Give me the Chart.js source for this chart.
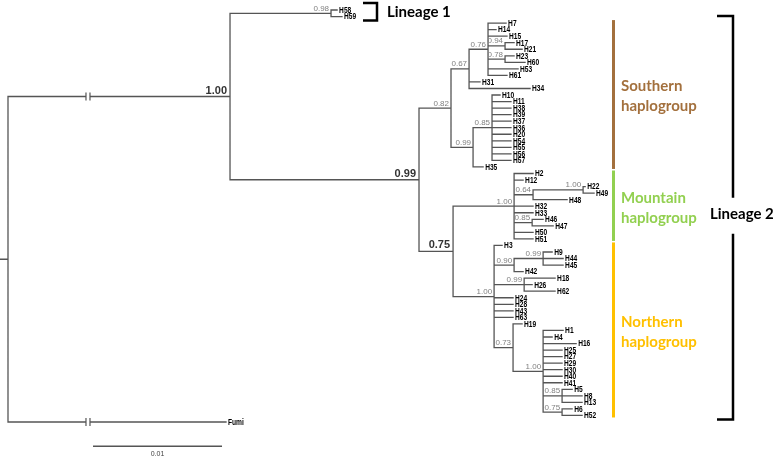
<!DOCTYPE html>
<html>
<head>
<meta charset="utf-8">
<script src="https://cdn.jsdelivr.net/npm/chart.js@4.4.0/dist/chart.umd.min.js"></script>
<style>
  html, body { margin: 0; padding: 0; background: #fff; }
  #wrap { width: 773px; height: 457px; }
</style>
</head>
<body>
<div id="wrap"><canvas id="tree" width="773" height="457"></canvas></div>
<script>
// Tree in preorder (children listed top to bottom).
// Branch lengths in 1e-3 substitutions/site (scale bar 0.01 = 10).
const nodeNames = [
  'root', 'A', 'L1', 'H58', 'H59',
  'L2', 'S', 'n67', 'n76', 'H7', 'H14', 'H15',
  'n94', 'H17', 'H21', 'n78', 'H23', 'H60', 'H53', 'H61', 'H31', 'H34',
  'n99b', 'n85s', 'H10', 'H11', 'H38', 'H39', 'H37', 'H36',
  'H20', 'H54', 'H55', 'H56', 'H57', 'H35',
  'n75', 'M', 'H2', 'H12', 'n64', 'n100c', 'H22', 'H49', 'H48',
  'H32', 'H33', 'n85m', 'H46', 'H47', 'H50', 'H51',
  'N', 'H3', 'n90', 'n99d', 'H9', 'H44', 'H45', 'H42',
  'n99e', 'H18', 'H26', 'H62', 'H24', 'H28', 'H43', 'H63',
  'n73', 'H19', 'n100f', 'H1', 'H4', 'H16', 'H25', 'H27', 'H29',
  'H30', 'H40', 'H41', 'n85g', 'H5', 'H8', 'H13',
  'n75h', 'H6', 'H52', 'Fumi'
];
const nodeParents = [
  null, 'root', 'A', 'L1', 'L1',
  'A', 'L2', 'S', 'n67', 'n76', 'n76', 'n76',
  'n76', 'n94', 'n94', 'n76', 'n78', 'n78', 'n76', 'n76', 'n67', 'n67',
  'S', 'n99b', 'n85s', 'n85s', 'n85s', 'n85s', 'n85s', 'n85s',
  'n85s', 'n85s', 'n85s', 'n85s', 'n85s', 'n99b',
  'L2', 'n75', 'M', 'M', 'M', 'n64', 'n100c', 'n100c', 'n64',
  'M', 'M', 'M', 'n85m', 'n85m', 'M', 'M',
  'n75', 'N', 'N', 'n90', 'n99d', 'n99d', 'n99d', 'n90',
  'N', 'n99e', 'n99e', 'n99e', 'N', 'N', 'N', 'N',
  'N', 'n73', 'n73', 'n100f', 'n100f', 'n100f', 'n100f', 'n100f', 'n100f',
  'n100f', 'n100f', 'n100f', 'n100f', 'n85g', 'n85g', 'n85g',
  'n100f', 'n75h', 'n75h', 'root'
];
const branchLengths = [
  0, 17.21, 7.83, 0.47, 0.85,
  14.65, 2.48, 1.40, 1.47, 1.40, 0.62, 1.47,
  1.32, 0.70, 1.32, 1.32, 0.70, 1.55, 2.33, 1.47, 0.85, 4.73,
  1.71, 1.47, 0.62, 1.47, 1.47, 1.47, 1.47, 1.47,
  1.47, 1.47, 1.47, 1.47, 1.47, 0.78,
  2.64, 4.73, 1.47, 0.70, 1.47, 3.88, 0.16, 0.85, 2.64,
  1.47, 1.47, 1.40, 0.85, 1.63, 1.47, 1.47,
  3.18, 0.62, 1.55, 2.25, 0.70, 1.55, 1.55, 0.70,
  2.33, 2.40, 0.62, 2.40, 1.47, 1.47, 1.47, 1.47,
  1.47, 0.70, 2.33, 1.55, 0.70, 2.56, 1.47, 1.47, 1.47,
  1.47, 1.47, 1.47, 1.47, 0.78, 1.55, 1.55,
  1.47, 0.78, 1.55, 16.90
];
const supportValues = [
  null, 1.00, 0.98, null, null,
  0.99, 0.82, 0.67, 0.76, null, null, null,
  0.94, null, null, 0.78, null, null, null, null, null, null,
  0.99, 0.85, null, null, null, null, null, null,
  null, null, null, null, null, null,
  0.75, 1.00, null, null, 0.64, 1.00, null, null, null,
  null, null, 0.85, null, null, null, null,
  1.00, null, 0.90, 0.99, null, null, null, null,
  0.99, null, null, null, null, null, null, null,
  0.73, null, 1.00, null, null, null, null, null, null,
  null, null, null, 0.85, null, null, null,
  0.75, null, null, null
];
const brokenBranches = ['A', 'Fumi'];
const keySupportNodes = ['A', 'L2', 'n75'];
const scaleBarLength = 10;
const scaleBarLabel = '0.01';
const groupNames = ['Southern', 'Mountain', 'Northern'];
const groupFirstTip = ['H7', 'H2', 'H3'];
const groupLastTip = ['H35', 'H51', 'H52'];
const lineageNames = ['Lineage 1', 'Lineage 2'];
const lineageFirstTip = ['H58', 'H7'];
const lineageLastTip = ['H59', 'H52'];

const groupColors = ['#a3703d', '#92d050', '#ffc000'];
const BRANCH = '#555555';

// ---- layout from the tree ----
const idx = {};
nodeNames.forEach((n, i) => { idx[n] = i; });
const children = nodeNames.map(() => []);
nodeParents.forEach((p, i) => { if (p) children[idx[p]].push(i); });

const nodeX = [];
nodeNames.forEach((n, i) => {
  const p = nodeParents[i];
  nodeX[i] = p ? nodeX[idx[p]] + branchLengths[i] : 0;
});
const nodeY = [];
let leafCount = 0;
function placeY(i) {
  const c = children[i];
  if (!c.length) { nodeY[i] = leafCount++; return; }
  c.forEach(placeY);
  nodeY[i] = (nodeY[c[0]] + nodeY[c[c.length - 1]]) / 2;
}
placeY(0);

const branchPoints = [];
const gap = () => branchPoints.push({ x: 0, y: null });
// root stub
branchPoints.push({ x: -0.62, y: nodeY[0] }, { x: 0, y: nodeY[0] }); gap();
nodeNames.forEach((n, i) => {
  const c = children[i];
  if (c.length) {
    branchPoints.push({ x: nodeX[i], y: nodeY[c[0]] }, { x: nodeX[i], y: nodeY[c[c.length - 1]] });
    gap();
  }
  const p = nodeParents[i];
  if (p) {
    branchPoints.push({ x: nodeX[idx[p]], y: nodeY[i] }, { x: nodeX[i], y: nodeY[i] });
    gap();
  }
});

const BREAK_X = 6.2;
const SCALE_X0 = 6.59, SCALE_Y = 66.7;

const treeDecor = {
  id: 'treeDecor',
  afterDatasetsDraw(chart) {
    const { ctx, scales: { x, y } } = chart;
    ctx.save();
    // break marks on compressed branches
    brokenBranches.forEach(name => {
      const i = idx[name];
      const bx = x.getPixelForValue(BREAK_X), by = y.getPixelForValue(nodeY[i]);
      ctx.fillStyle = '#fff';
      ctx.fillRect(bx - 2, by - 2, 4, 4);
      ctx.strokeStyle = BRANCH;
      ctx.lineWidth = 1.2;
      ctx.beginPath();
      ctx.moveTo(bx - 2, by - 4); ctx.lineTo(bx - 2, by + 4);
      ctx.moveTo(bx + 2, by - 4); ctx.lineTo(bx + 2, by + 4);
      ctx.stroke();
    });

    // tip labels and support values
    nodeNames.forEach((name, i) => {
      const px = x.getPixelForValue(nodeX[i]), py = y.getPixelForValue(nodeY[i]);
      if (!children[i].length) {
        ctx.save();
        ctx.translate(px + 2, py);
        ctx.scale(0.78, 1);
        ctx.font = 'bold 8.5px "Liberation Sans"';
        ctx.fillStyle = '#000';
        ctx.textAlign = 'left';
        ctx.textBaseline = 'middle';
        ctx.fillText(name, 0, 0.5);
        ctx.restore();
      } else if (supportValues[i] !== null) {
        const key = keySupportNodes.includes(name);
        ctx.font = key ? 'bold 11px "Liberation Sans"' : '8px "Liberation Sans"';
        ctx.fillStyle = key ? '#333' : '#808080';
        ctx.textAlign = 'right';
        ctx.textBaseline = 'alphabetic';
        ctx.fillText(supportValues[i].toFixed(2), px - (key ? 3 : 2), py - (key ? 3 : 2.5));
      }
    });

    // scale bar label
    ctx.font = '7px "Liberation Sans"';
    ctx.fillStyle = '#444';
    ctx.textAlign = 'center';
    ctx.textBaseline = 'middle';
    ctx.fillText(scaleBarLabel, x.getPixelForValue(SCALE_X0 + scaleBarLength / 2), y.getPixelForValue(SCALE_Y) + 8);

    // haplogroup bars
    groupNames.forEach((g, k) => {
      const y0 = y.getPixelForValue(nodeY[idx[groupFirstTip[k]]]) - 3;
      const y1 = y.getPixelForValue(nodeY[idx[groupLastTip[k]]]) + 2;
      ctx.fillStyle = groupColors[k];
      ctx.fillRect(612, y0, 3, y1 - y0);
      const mid = (y0 + y1) / 2 + 2;
      ctx.font = 'bold 15px Lato';
      ctx.textAlign = 'left';
      ctx.textBaseline = 'middle';
      ctx.fillText(g, 621, mid - 10);
      ctx.fillText('haplogroup', 621, mid + 10);
    });

    // lineage brackets
    const brackets = [{ x0: 363, x1: 377, tx: 387 }, { x0: 717, x1: 733, tx: 710 }];
    lineageNames.forEach((l, k) => {
      const b = brackets[k];
      const y0 = y.getPixelForValue(nodeY[idx[lineageFirstTip[k]]]) - 7;
      const y1 = y.getPixelForValue(nodeY[idx[lineageLastTip[k]]]) + 4;
      const mid = (y0 + y1) / 2;
      ctx.strokeStyle = '#000';
      ctx.lineWidth = 2.5;
      ctx.beginPath();
      if (k === 0) {
        ctx.moveTo(b.x0, y0); ctx.lineTo(b.x1, y0); ctx.lineTo(b.x1, y1); ctx.lineTo(b.x0, y1);
      } else {
        ctx.moveTo(b.x0, y0); ctx.lineTo(b.x1, y0); ctx.lineTo(b.x1, mid - 20);
        ctx.moveTo(b.x1, mid + 16); ctx.lineTo(b.x1, y1); ctx.lineTo(b.x0, y1);
      }
      ctx.stroke();
      ctx.font = 'bold 15px Lato';
      ctx.fillStyle = '#000';
      ctx.textAlign = 'left';
      ctx.textBaseline = 'middle';
      ctx.fillText(l, b.tx, k === 0 ? mid : mid - 4);
    });
    ctx.restore();
  }
};

new Chart(document.getElementById('tree'), {
  type: 'scatter',
  data: {
    datasets: [{
      label: 'branches',
      data: branchPoints,
      showLine: true,
      spanGaps: false,
      borderColor: BRANCH,
      borderWidth: 1.3,
      borderCapStyle: 'square',
      pointRadius: 0
    }, {
      label: 'scale bar',
      data: [{ x: SCALE_X0, y: SCALE_Y }, { x: SCALE_X0 + scaleBarLength, y: SCALE_Y }],
      showLine: true,
      borderColor: BRANCH,
      borderWidth: 1.5,
      pointRadius: 0
    }]
  },
  options: {
    responsive: false,
    animation: false,
    layout: { padding: 0 },
    plugins: { legend: { display: false }, tooltip: { enabled: false } },
    scales: {
      x: { type: 'linear', display: false, min: -0.62, max: 59.3 },
      y: { type: 'linear', display: false, reverse: true, min: -1.53, max: 68.35 }
    }
  },
  plugins: [treeDecor]
});
</script>
</body>
</html>
